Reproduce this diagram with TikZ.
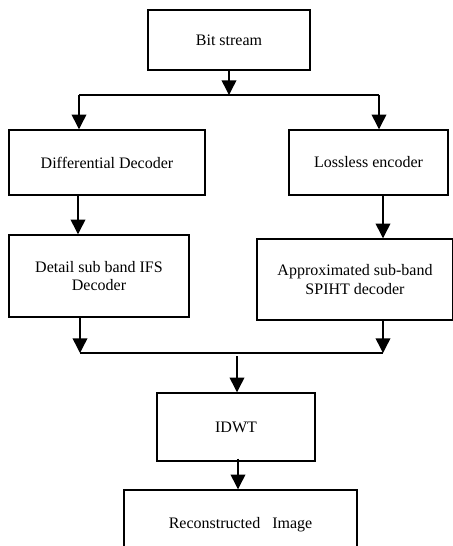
\documentclass[tikz,border=0pt]{standalone}
\usepackage{fontspec}
\setmainfont{Liberation Serif}
\usetikzlibrary{arrows.meta}
\begin{document}
\begin{tikzpicture}[x=0.75pt,y=-0.75pt]
			\tikzstyle{fleche}=[->,>={Triangle[length=11pt,width=11pt]},line width=1.1pt]
			\tikzstyle{trait}=[line width=1.1pt]
			\tikzstyle{boite}=[draw,line width=1.1pt,inner sep=0pt,align=center,font=\fontsize{12}{14.2}\selectfont]
			\useasboundingbox (0,0) rectangle (453,546);
			\def\NiveauA{40}
			\def\NiveauB{162.5}
			\def\JonctionA{95}
			\def\JonctionB{353}
			\node[boite,minimum width=121.5pt,minimum height=45pt] (Bits) at (229,\NiveauA) {Bit stream};
			\node[boite,minimum width=147pt,minimum height=48.75pt] (Diff) at (107,\NiveauB) {Differential Decoder};
			\node[boite,minimum width=119.25pt,minimum height=48.75pt] (Lossless) at (368.5,\NiveauB) {Lossless encoder};
			\node[boite,minimum width=135pt,minimum height=61.5pt] (Detail) at (99,276) {Detail sub band IFS\\Decoder};
			\node[boite,minimum width=147pt,minimum height=60.75pt] (Approx) at (355,279.5) {Approximated sub-band\\SPIHT decoder};
			\node[boite,minimum width=118.5pt,minimum height=51pt] (Idwt) at (236,427) {IDWT};
			\node[boite,minimum width=174.75pt,minimum height=52.5pt] (Recon) at (240.5,525) {Reconstructed\ \ \ Image};
			\coordinate (J) at (229,\JonctionA);
			\coordinate (Jg) at (79,\JonctionA);
			\coordinate (Jd) at (379,\JonctionA);
			\coordinate (Kg) at (80,\JonctionB);
			\coordinate (Kd) at (383,\JonctionB);
			\coordinate (K) at (237,356);
			\draw[fleche] (Bits.south -| J)--(J);
			\draw[trait] (Jg)--(Jd);
			\draw[fleche] (Jg)--(Jg |- Diff.north);
			\draw[fleche] (Jd)--(Jd |- Lossless.north);
			\draw[fleche] (Diff.south -| 78,0)--(Detail.north -| 78,0);
			\draw[fleche] (Lossless.south -| 383,0)--(Approx.north -| 383,0);
			\draw[fleche] (Detail.south -| Kg)--(Kg);
			\draw[fleche] (Approx.south -| Kd)--(Kd);
			\draw[trait] (Kg)--(Kd);
			\draw[fleche] (K)--(K |- Idwt.north);
			\draw[fleche] ([yshift=2.25pt]Idwt.south -| 238,0)--(Recon.north -| 238,0);
		\end{tikzpicture}
\end{document}
